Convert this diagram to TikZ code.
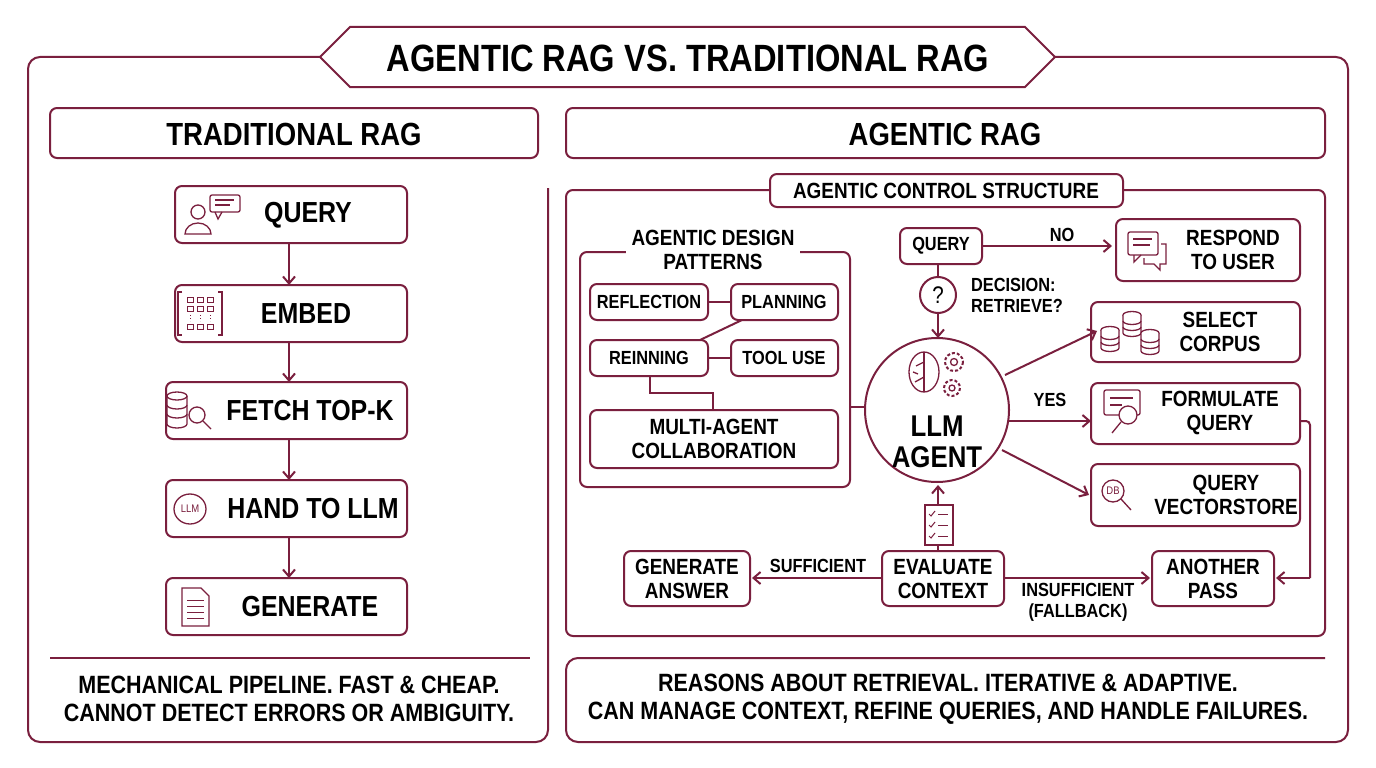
\documentclass[tikz,border=0pt]{standalone}
\usepackage{fontspec}
\setmainfont{Liberation Sans}[FakeStretch=0.86]
\usetikzlibrary{arrows.meta}
\definecolor{mr}{HTML}{7A1F3E}
\begin{document}
\begin{tikzpicture}[x=1pt,y=-1pt,
  ln/.style={draw=mr,line width=2pt},
  bx/.style={ln,rounded corners=7pt,fill=white},
  arr/.style={draw=mr,line width=2pt,-{Straight Barb[length=7pt,width=12pt]}},
  ic/.style={draw=mr,line width=1.3pt},
  t/.style={font=\bfseries\fontsize{29}{31}\selectfont,align=center,text=black},
  s/.style={font=\bfseries\fontsize{22}{24}\selectfont,align=center,text=black},
  ss/.style={font=\bfseries\fontsize{19}{21}\selectfont,align=center,text=black}]
\useasboundingbox (0,0) rectangle (1376,768);
\fill[white] (0,0) rectangle (1376,768);
% frames
\draw[ln,rounded corners=12pt] (320,57) -- (28,57) -- (28,742) -- (548,742) -- (548,188);
\draw[ln,rounded corners=12pt] (1055,57) -- (1348,57) -- (1348,742) -- (566,742) -- (566,658) -- (1325,658);
\draw[ln] (50,658) -- (530,658);
\draw[ln,fill=white] (320,57) -- (350,27) -- (1025,27) -- (1055,57) -- (1025,87) -- (350,87) -- cycle;
\node[t,font=\bfseries\fontsize{38}{40}\selectfont] (tt) at (688,58) {AGENTIC RAG VS. TRADITIONAL RAG};
% headers
\draw[bx] (50,108) rectangle (538,158);
\node[t,font=\bfseries\fontsize{32}{34}\selectfont] (h1) at (294,134) {TRADITIONAL RAG};
\draw[bx] (566,108) rectangle (1325,158);
\node[t,font=\bfseries\fontsize{32}{34}\selectfont] (h2) at (945,134) {AGENTIC RAG};
% left pipeline
\draw[bx] (175,186) rectangle (407,243); \node[t] (q) at (308,215) {QUERY};
\draw[bx] (175,285) rectangle (407,342); \node[t] (e) at (306,314) {EMBED};
\draw[bx] (166,382) rectangle (407,439); \node[t] (f) at (310,411) {FETCH TOP-K};
\draw[bx] (166,480) rectangle (407,537); \node[t] (h) at (313,509) {HAND TO LLM};
\draw[bx] (166,578) rectangle (407,635); \node[t] (g) at (310,607) {GENERATE};
\foreach \a/\b in {243/285,342/382,439/480,537/578} \draw[arr] (289,\a) -- (289,\b);
% icons left
\draw[ic] (198,212) circle (7); \draw[ic] (185,234) arc(180:360:13 and 11) -- cycle;
\draw[ic,rounded corners=2pt] (210,195) rectangle (240,212); \draw[ic] (215,212) -- (218,219) -- (222,212);
\draw[ic] (215,200) -- (234,200) (215,205) -- (230,205);
\draw[ic] (182,292) -- (178,292) -- (178,335) -- (182,335); \draw[ic] (218,292) -- (222,292) -- (222,335) -- (218,335);
\foreach \i in {0,1,2} \foreach \j in {0,1,3} \draw[ic,line width=1pt] (187+\i*10,297+\j*9) rectangle (193+\i*10,302+\j*9);
\foreach \i in {0,1,2} \draw[ic,line width=1pt,dotted] (190+\i*10,315) -- (190+\i*10,321);
\draw[ic] (177,396) ellipse (10 and 4); \draw[ic] (167,396) -- (167,424) arc(180:0:10 and 4) -- (187,396);
\draw[ic] (167,405) arc(180:0:10 and 4) (167,414) arc(180:0:10 and 4);
\draw[ic,fill=white] (197,415) circle (8); \draw[ic] (203,421) -- (211,429);
\draw[ic] (190,509) circle (16 and 15); \node[font=\fontsize{11}{11}\selectfont,text=mr] (llmi) at (190,509) {LLM};
\draw[ic] (182,588) -- (201,588) -- (209,596) -- (209,626) -- (182,626) -- cycle;
\foreach \y in {600,606,612,618} \draw[ic,line width=1pt] (187,\y) -- (204,\y);
% bottom texts
\node[t,font=\bfseries\fontsize{25}{28}\selectfont] (bl) at (289,699) {MECHANICAL PIPELINE. FAST \& CHEAP.\\CANNOT DETECT ERRORS OR AMBIGUITY.};
\node[t,font=\bfseries\fontsize{25}{28}\selectfont] (br) at (948,699) {REASONS ABOUT RETRIEVAL. ITERATIVE \& ADAPTIVE.\\CAN MANAGE CONTEXT, REFINE QUERIES, AND HANDLE FAILURES.};
% control structure
\draw[bx] (566,190) rectangle (1325,636);
\draw[bx] (770,174) rectangle (1123,207); \node[s] (cs) at (946,191) {AGENTIC CONTROL STRUCTURE};
\draw[bx] (580,252) rectangle (850,487);
\node[s,fill=white,inner xsep=6pt] (dp) at (713,250) {AGENTIC DESIGN\\PATTERNS};
\draw[ln] (708,302) -- (731,302); \draw[ln] (742,320) -- (700,340); \draw[ln] (708,358) -- (731,358);
\draw[ln] (650,376) -- (650,393) -- (713,393) -- (713,410);
\draw[bx] (590,284) rectangle (708,320); \node[ss] (rf) at (649,302) {REFLECTION};
\draw[bx] (731,284) rectangle (838,320); \node[ss] (pl) at (784,302) {PLANNING};
\draw[bx] (590,340) rectangle (708,376); \node[ss] (rn) at (649,358) {REINNING};
\draw[bx] (731,340) rectangle (838,376); \node[ss] (tu) at (784,358) {TOOL USE};
\draw[bx] (590,410) rectangle (838,468); \node[s] (ma) at (714,439) {MULTI-AGENT\\COLLABORATION};
% LLM agent
\draw[ln] (850,407) -- (865,407);
\node[circle,ln,fill=white,minimum size=144pt,inner sep=0pt] (llm) at (937,410) {};
\node[t,font=\bfseries\fontsize{30}{31}\selectfont] (llmt) at (937,442) {LLM\\AGENT};
\draw[ic] (924,372) ellipse (15 and 20); \draw[ic] (924,352) -- (924,392);
\draw[ic] (924,362) -- (916,366) (924,377) -- (915,382) (913,372) -- (918,374);
\draw[ic,dash pattern=on 3pt off 2pt,line width=2pt] (954,362) circle (9); \draw[ic] (954,362) circle (3.5);
\draw[ic,dash pattern=on 3pt off 2pt,line width=2pt] (952,388) circle (8); \draw[ic] (952,388) circle (3);
% query / decision
\draw[bx] (900,228) rectangle (982,264); \node[ss] (aq) at (941,246) {QUERY};
\draw[arr] (982,246) -- (1112,246); \node[ss] (no) at (1062,235) {NO};
\draw[ln] (938,264) -- (938,277);
\draw[ln,fill=white] (938,295) circle (18); \node[s,font=\fontsize{24}{24}\selectfont] (qm) at (938,295) {?};
\draw[arr] (938,313) -- (938,338);
\node[ss,align=left] (dec) at (1017,295) {DECISION:\\RETRIEVE?};
% right boxes
\draw[bx] (1116,219) rectangle (1300,281); \node[s] (ru) at (1233,250) {RESPOND\\TO USER};
\draw[ic,rounded corners=2pt] (1128,232) rectangle (1158,255); \draw[ic] (1134,255) -- (1134,262) -- (1141,255);
\draw[ic] (1133,239) -- (1152,239) (1133,245) -- (1150,245);
\draw[ic] (1161,244) -- (1166,244) -- (1166,264) -- (1160,264) -- (1160,270) -- (1154,264) -- (1144,264) -- (1144,258);
\draw[bx] (1091,302) rectangle (1300,362); \node[s] (sc) at (1220,332) {SELECT\\CORPUS};
\foreach \x/\y in {1110/330,1132/315,1150/333} {\draw[ic,fill=white] (\x,\y) ellipse (9 and 3.5); \draw[ic,fill=white] (\x-9,\y) -- (\x-9,\y+18) arc(180:0:9 and 3.5) -- (\x+9,\y); \draw[ic] (\x-9,\y+6) arc(180:0:9 and 3.5) (\x-9,\y+12) arc(180:0:9 and 3.5);}
\draw[bx] (1091,383) rectangle (1300,444); \node[s] (fq) at (1220,413) {FORMULATE\\QUERY};
\draw[ic,rounded corners=2pt] (1104,390) rectangle (1140,415); \draw[ic] (1110,398) -- (1133,398) (1110,405) -- (1122,405);
\draw[ic,fill=white] (1128,415) circle (9); \draw[ic] (1121,422) -- (1112,433);
\draw[bx] (1091,464) rectangle (1300,526); \node[s] (qv) at (1226,495) {QUERY\\VECTORSTORE};
\draw[ic] (1113,491) circle (11); \node[font=\fontsize{11}{11}\selectfont,text=mr] (dbi) at (1113,491) {DB};
\draw[ic] (1121,499) -- (1131,510);
\draw[arr] (1005,375) -- (1097,331);
\draw[arr] (1009,421) -- (1091,421); \node[ss] (yes) at (1050,400) {YES};
\draw[arr] (1002,450) -- (1089,495);
% bottom row
\draw[ln,rounded corners=4pt] (1300,421) -- (1310,421) -- (1310,578); \draw[arr] (1310,578) -- (1276,578);
\draw[bx] (1152,551) rectangle (1274,606); \node[s] (ap) at (1213,579) {ANOTHER\\PASS};
\draw[bx] (882,551) rectangle (1004,606); \node[s] (ev) at (943,579) {EVALUATE\\CONTEXT};
\draw[bx] (624,551) rectangle (750,606); \node[s] (ga) at (687,579) {GENERATE\\ANSWER};
\draw[ln] (938,551) -- (938,545); \draw[arr] (938,505) -- (938,485);
\draw[ic,fill=white] (925,505) rectangle (953,545);
\foreach \y in {514,525,536} {\draw[ic,line width=1pt] (929,\y) -- (931,\y+2) -- (935,\y-3); \draw[ic,line width=1pt] (938,\y) -- (948,\y);}
\draw[arr] (882,578) -- (752,578); \node[ss] (suf) at (818,566) {SUFFICIENT};
\draw[arr] (1004,578) -- (1150,578); \node[ss] (ins) at (1078,602) {INSUFFICIENT\\(FALLBACK)};
\end{tikzpicture}
\end{document}
